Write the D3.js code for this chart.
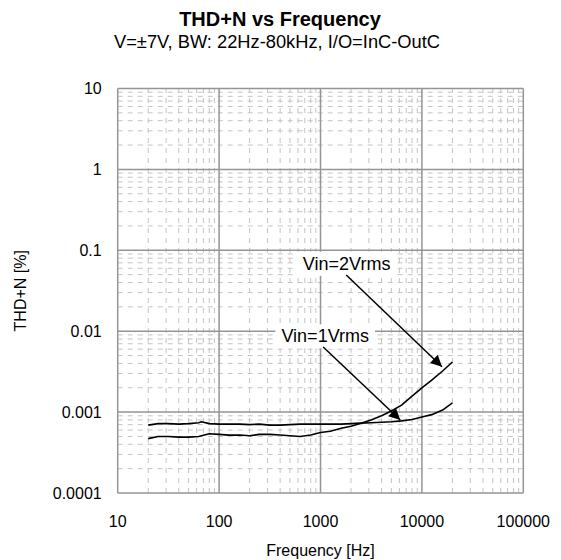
<!DOCTYPE html>
<html>
<head>
<meta charset="utf-8">
<script src="https://cdn.jsdelivr.net/npm/d3@7"></script>
<style>
  body { margin: 0; background: #fff; }
  text { font-family: 'Liberation Sans', Arial, sans-serif; fill: #000; }
</style>
</head>
<body>
<svg id="chart" width="561" height="560"></svg>
<script>
// measured points (Hz)
const freq = [20, 25, 31.5, 40, 50, 63, 67, 80, 100, 125, 160, 200, 250, 315, 400, 500, 630, 800,
  1000, 1250, 1600, 2000, 2500, 3150, 4000, 5000, 6300, 8000, 10000, 12500, 16000, 20000]
// THD+N in %
const vin1 = [0.00069, 0.00072, 0.00072, 0.00071, 0.00072, 0.00074, 0.00076, 0.00072, 0.00071, 0.00071,
  0.00071, 0.00070, 0.00071, 0.00069, 0.00069, 0.00070, 0.00071, 0.00071, 0.00071, 0.00071, 0.00071,
  0.00072, 0.00073, 0.00074, 0.00075, 0.00076, 0.00078, 0.00081, 0.00087, 0.00093, 0.00106, 0.0013]
const vin2 = [0.00047, 0.00050, 0.00050, 0.00049, 0.00049, 0.00050, 0.00051, 0.00054, 0.00053, 0.00052,
  0.00052, 0.00051, 0.00053, 0.00053, 0.00052, 0.00051, 0.00050, 0.00052, 0.00056, 0.00058, 0.00063,
  0.00067, 0.00073, 0.00080, 0.00090, 0.00103, 0.00122, 0.00158, 0.00199, 0.00249, 0.00322, 0.00416]

const xTicks = [10, 100, 1000, 10000, 100000]
const yTicks = [0.0001, 0.001, 0.01, 0.1, 1, 10]
const xTickLabels = ['10', '100', '1000', '10000', '100000']
const yTickLabels = ['0.0001', '0.001', '0.01', '0.1', '1', '10']

// annotations: label text, label anchor [Hz, %], arrow from and to [Hz, %]
const notes = [
  {text: 'Vin=2Vrms', at: [1810, 0.0687], from: [1794, 0.0495], to: [15780, 0.00364]},
  {text: 'Vin=1Vrms', at: [1113, 0.00872], from: [1063, 0.00638], to: [6120, 0.0008]}
]

const svg = d3.select('#chart')
const margin = {top: 88.5, right: 37.7, bottom: 67, left: 117.7}
const width = 561 - margin.left - margin.right
const height = 560 - margin.top - margin.bottom

const x = d3.scaleLog().domain([10, 100000]).range([0, width])
const y = d3.scaleLog().domain([0.0001, 10]).range([height, 0])

svg.append('text')
  .attr('x', 280).attr('y', 26)
  .attr('text-anchor', 'middle')
  .style('font-size', '20px').style('font-weight', 'bold')
  .text('THD+N vs Frequency')
svg.append('text')
  .attr('x', 277).attr('y', 48)
  .attr('text-anchor', 'middle')
  .style('font-size', '18.3px')
  .text('V=±7V, BW: 22Hz-80kHz, I/O=InC-OutC')

const g = svg.append('g')
  .attr('transform', 'translate(' + margin.left + ',' + margin.top + ')')

// minor grid
let minorX = []
let minorY = []
for (let d = 10; d < 100000; d *= 10) {
  for (let k = 2; k <= 9; k++) minorX.push(d * k)
}
for (let d = 0.0001; d < 9; d *= 10) {
  for (let k = 2; k <= 9; k++) minorY.push(d * k)
}
g.selectAll('.minorx').data(minorX).enter().append('line')
  .attr('x1', d => x(d)).attr('x2', d => x(d))
  .attr('y1', height).attr('y2', 0)
  .attr('stroke', '#c4c4c4').attr('stroke-width', 1)
  .attr('stroke-dasharray', '5,5')
g.selectAll('.minory').data(minorY).enter().append('line')
  .attr('x1', 0).attr('x2', width)
  .attr('y1', d => y(d)).attr('y2', d => y(d))
  .attr('stroke', '#c4c4c4').attr('stroke-width', 1)
  .attr('stroke-dasharray', '5,5')

// major grid
g.selectAll('.majorx').data(xTicks).enter().append('line')
  .attr('x1', d => x(d)).attr('x2', d => x(d))
  .attr('y1', height).attr('y2', 0)
  .attr('stroke', '#959595').attr('stroke-width', 1.5)
g.selectAll('.majory').data(yTicks).enter().append('line')
  .attr('x1', 0).attr('x2', width)
  .attr('y1', d => y(d)).attr('y2', d => y(d))
  .attr('stroke', '#959595').attr('stroke-width', 1.5)

// tick labels
g.selectAll('.xl').data(xTicks).enter().append('text')
  .attr('x', d => x(d)).attr('y', height + 34)
  .attr('text-anchor', 'middle')
  .style('font-size', '16px')
  .text((d, i) => xTickLabels[i])
g.selectAll('.yl').data(yTicks).enter().append('text')
  .attr('x', -16).attr('y', d => y(d))
  .attr('dy', '0.35em')
  .attr('text-anchor', 'end')
  .style('font-size', '16px')
  .text((d, i) => yTickLabels[i])

svg.append('text')
  .attr('x', margin.left + width / 2).attr('y', 556)
  .attr('text-anchor', 'middle')
  .style('font-size', '16px')
  .text('Frequency [Hz]')
svg.append('text')
  .attr('transform', 'translate(26,' + (margin.top + height / 2) + ') rotate(-90)')
  .attr('text-anchor', 'middle')
  .style('font-size', '16px')
  .text('THD+N [%]')

// curves
const line = d3.line().x(d => x(d[0])).y(d => y(d[1]))
for (let vals of [vin1, vin2]) {
  g.append('path')
    .datum(freq.map((f, i) => [f, vals[i]]))
    .attr('fill', 'none')
    .attr('stroke', '#000')
    .attr('stroke-width', 1.6)
    .attr('d', line)
}

// annotations
svg.append('defs').append('marker')
  .attr('id', 'arrow')
  .attr('viewBox', '0 0 10 10')
  .attr('refX', 10).attr('refY', 5)
  .attr('markerWidth', 10).attr('markerHeight', 7.5)
  .attr('markerUnits', 'strokeWidth')
  .attr('orient', 'auto')
  .append('path').attr('d', 'M0,0L10,5L0,10z').attr('fill', '#000')

for (let n of notes) {
  g.append('line')
    .attr('x1', x(n.from[0])).attr('y1', y(n.from[1]))
    .attr('x2', x(n.to[0])).attr('y2', y(n.to[1]))
    .attr('stroke', '#000').attr('stroke-width', 1.5)
    .attr('marker-end', 'url(#arrow)')
  let t = g.append('text')
    .attr('x', x(n.at[0])).attr('y', y(n.at[1]))
    .attr('dy', '0.35em')
    .attr('text-anchor', 'middle')
    .style('font-size', '18px')
    .text(n.text)
  let b = t.node().getBBox()
  g.insert('rect', 'text')
    .attr('x', b.x - 6).attr('y', b.y - 2)
    .attr('width', b.width + 12).attr('height', b.height + 4)
    .attr('fill', '#fff')
}
</script>
</body>
</html>
